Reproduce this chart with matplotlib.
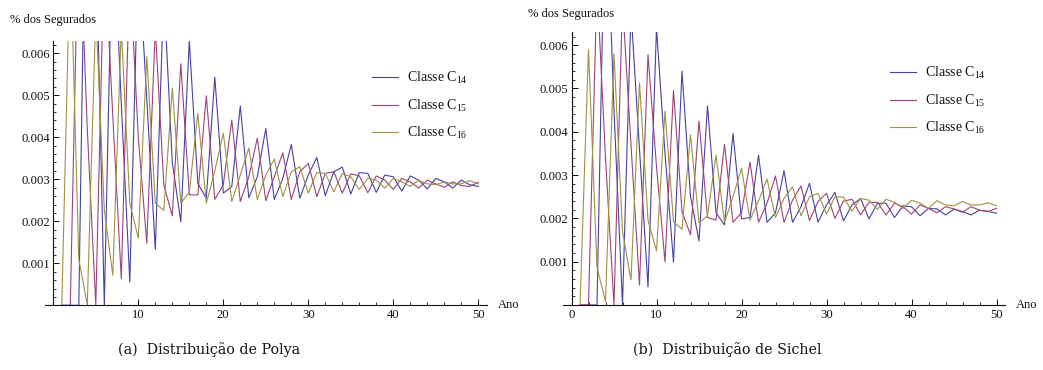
import numpy as np
import matplotlib
matplotlib.use("Agg")
import matplotlib.pyplot as plt
from matplotlib.ticker import MultipleLocator, FixedLocator

plt.rcParams['font.family'] = ['Liberation Serif', 'DejaVu Serif']
plt.rcParams['mathtext.fontset'] = 'custom'
plt.rcParams['mathtext.rm'] = 'Liberation Serif'
plt.rcParams['mathtext.it'] = 'Liberation Serif:italic'

# ---- data ----
anos = np.arange(1, 51)

polya_c14 = [0, 0, 0, 0.0130, 0.0090, 0, 0.0094, 0.0048, 0.00055, 0.0084,
             0.0049, 0.00133, 0.0075, 0.0034, 0.00199, 0.0063, 0.0029, 0.00255, 0.00543, 0.00267,
             0.00283, 0.00475, 0.00256, 0.00306, 0.00421, 0.00252, 0.00302, 0.00383, 0.00255, 0.0031,
             0.00352, 0.00261, 0.00318, 0.00329, 0.00265, 0.00316, 0.00314, 0.00269, 0.0031, 0.00306,
             0.00272, 0.00308, 0.00298, 0.00277, 0.00302, 0.00294, 0.00279, 0.00298, 0.00287, 0.00283]
polya_c15 = [0, 0, 0.0095, 0.0042, 0, 0.0085, 0.0045, 0.00063, 0.0080, 0.0040,
             0.00148, 0.0066, 0.00287, 0.00213, 0.00575, 0.00263, 0.00263, 0.00499, 0.00252, 0.00287,
             0.00441, 0.00247, 0.00306, 0.00398, 0.00249, 0.00306, 0.00363, 0.00252, 0.00318, 0.00338,
             0.00259, 0.00314, 0.00318, 0.00267, 0.00313, 0.00308, 0.00268, 0.00308, 0.00298, 0.00276,
             0.00302, 0.00294, 0.00279, 0.00298, 0.00289, 0.00281, 0.00294, 0.00285, 0.00283, 0.00293]
polya_c16 = [0, 0.0085, 0.0011, 0.00002, 0.0070, 0.00227, 0.00071, 0.0066, 0.00243, 0.0016,
             0.00592, 0.00243, 0.00226, 0.00517, 0.00243, 0.00269, 0.00457, 0.00243, 0.0032, 0.0041,
             0.00247, 0.0031, 0.00374, 0.00252, 0.0031, 0.00348, 0.00259, 0.00318, 0.0033, 0.00267,
             0.00316, 0.00314, 0.0027, 0.00314, 0.00306, 0.00276, 0.00302, 0.00298, 0.00279, 0.00302,
             0.00294, 0.00283, 0.00298, 0.00289, 0.00287, 0.00294, 0.00289, 0.00289, 0.00297, 0.00289]

sichel_c14 = [0, 0, 0, 0.0100, 0.0045, 0, 0.0068, 0.0036, 0.00042, 0.0064,
              0.0035, 0.00099, 0.0054, 0.0025, 0.00148, 0.0046, 0.00213, 0.00185, 0.00396, 0.00199,
              0.00202, 0.00346, 0.00191, 0.00213, 0.0031, 0.00191, 0.00227, 0.00281, 0.00191, 0.00231,
              0.0026, 0.00194, 0.00231, 0.00246, 0.00199, 0.00235, 0.00235, 0.00202, 0.00229, 0.00227,
              0.00206, 0.00223, 0.00222, 0.00208, 0.00221, 0.00216, 0.00208, 0.00219, 0.00216, 0.00212]
sichel_c15 = [0, 0, 0.0074, 0.0034, 0, 0.0070, 0.0037, 0.00046, 0.00578, 0.0032,
              0.0010, 0.00495, 0.00216, 0.00162, 0.00425, 0.00202, 0.00196, 0.00371, 0.00191, 0.00213,
              0.0033, 0.00191, 0.00235, 0.00298, 0.00191, 0.00242, 0.00275, 0.00195, 0.00239, 0.00258,
              0.0020, 0.0024, 0.00244, 0.00208, 0.00237, 0.00237, 0.00208, 0.00235, 0.00227, 0.0021,
              0.00231, 0.00223, 0.00213, 0.00227, 0.00222, 0.00214, 0.00227, 0.00219, 0.00216, 0.00223]
sichel_c16 = [0, 0.0059, 0.00087, 0.00008, 0.0058, 0.0017, 0.00058, 0.00513, 0.00196, 0.00125,
              0.00448, 0.00192, 0.00175, 0.00393, 0.0019, 0.00206, 0.00346, 0.00191, 0.0025, 0.00316,
              0.00196, 0.0024, 0.00291, 0.00202, 0.00246, 0.00273, 0.00206, 0.0025, 0.00258, 0.0021,
              0.0025, 0.00249, 0.00217, 0.00246, 0.00242, 0.00221, 0.00244, 0.00237, 0.00223, 0.00242,
              0.00235, 0.00223, 0.00241, 0.00231, 0.00229, 0.00239, 0.00231, 0.00231, 0.00236, 0.00229]

series_labels = [r'Classe C$_{14}$', r'Classe C$_{15}$', r'Classe C$_{16}$']
colors = ['#45439f', '#9f4377', '#9f9243']
yticks = [0.001, 0.002, 0.003, 0.004, 0.005, 0.006]
captions = ['(a)  Distribuição de Polya', '(b)  Distribuição de Sichel']

W, H = 1043, 370
fig = plt.figure(figsize=(W / 100, H / 100), dpi=100)

def px_axes(x0, y0_bottom, x_right, y_top):
    return [x0 / W, (H - y0_bottom) / H, (x_right - x0) / W, (y0_bottom - y_top) / H]

XMIN, XMAX, YMAX = -0.95, 51.0, 0.0063

panels = [
    dict(data=[polya_c14, polya_c15, polya_c16], xorig=53.3, yorig=305.3, ppu=42000,
         xticks=[10, 20, 30, 40, 50], cap=captions[0], capx=209, ylab=(10.5, 19.5),
         leg=(372.0, 70.0)),
    dict(data=[sichel_c14, sichel_c15, sichel_c16], xorig=571.5, yorig=305.0, ppu=43300,
         xticks=[0, 10, 20, 30, 40, 50], cap=captions[1], capx=727.5, ylab=(528.5, 14.5),
         leg=(889.8, 65.0)),
]

for p in panels:
    x_left = p['xorig'] + XMIN * 8.5
    x_right = p['xorig'] + XMAX * 8.5
    y_top = p['yorig'] - YMAX * p['ppu']
    ax = fig.add_axes(px_axes(x_left, p['yorig'], x_right, y_top))
    for vals, c, lab in zip(p['data'], colors, series_labels):
        ax.plot(anos, vals, color=c, lw=0.8, label=lab)
    ax.set_xlim(XMIN, XMAX)
    ax.set_ylim(0, YMAX)
    for s in ['top', 'right']:
        ax.spines[s].set_visible(False)
    ax.spines['left'].set_position(('data', 0))
    for s in ['left', 'bottom']:
        ax.spines[s].set_linewidth(0.8)
        ax.spines[s].set_color('#111111')
    ax.xaxis.set_major_locator(FixedLocator(p['xticks']))
    ax.xaxis.set_minor_locator(MultipleLocator(2))
    ax.yaxis.set_major_locator(FixedLocator(yticks))
    ax.yaxis.set_minor_locator(MultipleLocator(0.0002))
    ax.set_yticklabels([f'{v:.3f}' for v in yticks])
    ax.tick_params(which='both', direction='in', labelsize=9.1, colors='#111111', pad=3)
    ax.tick_params(which='major', length=4, width=0.7)
    ax.tick_params(which='minor', length=2.2, width=0.6)
    ax.tick_params(axis='y', pad=2.5)
    ax.patch.set_alpha(0)
    fig.text(p['ylab'][0] / W, 1 - p['ylab'][1] / H, '% dos Segurados', fontsize=9.0,
             ha='left', va='center', color='#111111')
    fig.text((x_right + 11) / W, 1 - (p['yorig']) / H, 'Ano', fontsize=9.0,
             ha='left', va='center', color='#111111')
    leg = ax.legend(loc='upper left', bbox_to_anchor=(p['leg'][0] / W, 1 - p['leg'][1] / H),
                    bbox_transform=fig.transFigure, frameon=False, fontsize=10.0,
                    handlelength=1.87, handletextpad=0.65, labelspacing=0.82, borderpad=0,
                    borderaxespad=0)
    for t in leg.get_texts():
        t.set_color('#111111')
    fig.text(p['capx'] / W, 1 - 350 / H, p['cap'], fontsize=10.3, ha='center', va='center',
             family=['DejaVu Serif'], color='#111111')

fig.savefig('out.png', dpi=100)
